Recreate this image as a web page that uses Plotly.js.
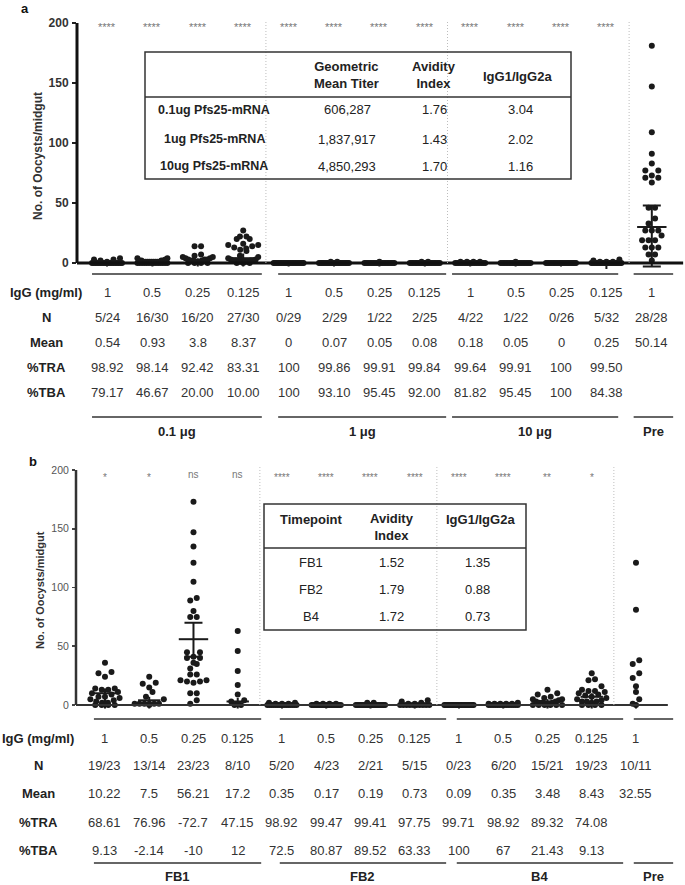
<!DOCTYPE html>
<html><head><meta charset="utf-8">
<script src="https://cdn.plot.ly/plotly-3.0.1.min.js"></script>
<style>html,body{margin:0;padding:0;background:#fff}#chart{width:685px;height:885px}</style>
</head><body><div id="chart"></div>
<script>
// ---------------- DATA ----------------
// Panel a: oocysts per midgut for each group (0.1 µg x4, 1 µg x4, 10 µg x4, Pre)
const oocystsA = [
  [0,0,0,0,0,0,0,0,0,0,0,0,0,0,0,0,0,0,0,1,2,3,3,4],
  [0,0,0,0,0,0,0,0,0,0,0,0,0,0,1,1,1,1,1,1,1,1,1,2,2,2,2,3,4,4],
  [0,0,0,0,14,14,7,6,5,5,4,4,3,3,3,2,2,2,1,1],
  [0,0,0,27,22,22,20,20,16,15,15,14,13,12,11,10,6,5,4,3,3,2,2,2,2,1,1,1,1,1],
  [0,0,0,0,0,0,0,0,0,0,0,0,0,0,0,0,0,0,0,0,0,0,0,0,0,0,0,0,0],
  [0,0,0,0,0,0,0,0,0,0,0,0,0,0,0,0,0,0,0,0,0,0,0,0,0,0,0,1,1],
  [0,0,0,0,0,0,0,0,0,0,0,0,0,0,0,0,0,0,0,0,0,1],
  [0,0,0,0,0,0,0,0,0,0,0,0,0,0,0,0,0,0,0,0,0,0,0,1,1],
  [0,0,0,0,0,0,0,0,0,0,0,0,0,0,0,0,0,0,1,1,1,1],
  [0,0,0,0,0,0,0,0,0,0,0,0,0,0,0,0,0,0,0,0,0,1],
  [0,0,0,0,0,0,0,0,0,0,0,0,0,0,0,0,0,0,0,0,0,0,0,0,0,0],
  [0,0,0,0,0,0,0,0,0,0,0,0,0,0,0,0,0,0,0,0,0,0,0,0,0,0,0,3,2,1,1,1],
  [181,147,109,91,83,77,77,73,71,71,67,46,46,37,33,27,27,27,23,19,19,19,13,13,13,7,7,2]
];
const centerA  = [0,0,1,4,0,0,0,0,0,0,0,0,30];
const errUpA   = [2,2,3,4,1,1,1,1,1,1,1,2,18];
const errDownA = [3,3,4,7,3,3,3,3,3,3,3,5,33];
const sigA = ['****','****','****','****','****','****','****','****','****','****','****','****',''];
const igGA  = ['1','0.5','0.25','0.125','1','0.5','0.25','0.125','1','0.5','0.25','0.125','1'];
const nA    = ['5/24','16/30','16/20','27/30','0/29','2/29','1/22','2/25','4/22','1/22','0/26','5/32','28/28'];
const meanA = ['0.54','0.93','3.8','8.37','0','0.07','0.05','0.08','0.18','0.05','0','0.25','50.14'];
const traA  = ['98.92','98.14','92.42','83.31','100','99.86','99.91','99.84','99.64','99.91','100','99.50',''];
const tbaA  = ['79.17','46.67','20.00','10.00','100','93.10','95.45','92.00','81.82','95.45','100','84.38',''];
const groupLabelsA = ['0.1 μg','1 μg','10 μg','Pre'];
const insetARowLabels = ['0.1ug Pfs25-mRNA','1ug Pfs25-mRNA','10ug Pfs25-mRNA'];
const insetAGMT = ['606,287','1,837,917','4,850,293'];
const insetAAvidity = ['1.76','1.43','1.70'];
const insetARatio = ['3.04','2.02','1.16'];

// Panel b
const oocystsB = [
  [0,0,0,0,36,28,27,24,14,14,13,13,11,10,9,7,7,6,5,4,3,2,2],
  [0,24,19,18,15,11,7,5,1,1,1,1,1,1],
  [173,147,135,121,105,91,89,80,75,75,45,45,41,40,40,36,35,31,26,26,21,21,20,20,19,10,10,4,1],
  [0,0,63,46,29,17,9,4,3,1],
  [0,0,0,0,0,0,0,0,0,0,0,0,0,0,0,2,2,1,1,1],
  [0,0,0,0,0,0,0,0,0,0,0,0,0,0,0,0,0,0,0,1,1,1,1],
  [0,0,0,0,0,0,0,0,0,0,0,0,0,0,0,0,0,0,0,2,2],
  [0,0,0,0,0,0,0,0,0,0,4,3,2,1,1],
  [0,0,0,0,0,0,0,0,0,0,0,0,0,0,0,0,0,0,0,0,0,0,0],
  [0,0,0,0,0,0,0,0,0,0,0,0,0,0,2,1,1,1,1,1],
  [0,0,0,0,0,0,13,10,9,7,6,5,5,4,3,3,2,2,2,1,1],
  [0,0,0,0,27,22,21,16,13,12,12,11,10,9,8,7,6,5,4,3,3,3,2],
  [121,81,38,35,27,23,16,11,5,1,0]
];
const centerB  = [10,4,56,3,0,0,0,0,0,0,3,7,0];
const errUpB   = [4,3,14,3,1,1,1,1,1,1,2,3,2];
const errDownB = [13,7,15,6,3,3,3,3,3,3,6,10,3];
const sigB = ['*','*','ns','ns','****','****','****','****','****','****','**','*',''];
const igGB  = ['1','0.5','0.25','0.125','1','0.5','0.25','0.125','1','0.5','0.25','0.125','1'];
const nB    = ['19/23','13/14','23/23','8/10','5/20','4/23','2/21','5/15','0/23','6/20','15/21','19/23','10/11'];
const meanB = ['10.22','7.5','56.21','17.2','0.35','0.17','0.19','0.73','0.09','0.35','3.48','8.43','32.55'];
const traB  = ['68.61','76.96','-72.7','47.15','98.92','99.47','99.41','97.75','99.71','98.92','89.32','74.08',''];
const tbaB  = ['9.13','-2.14','-10','12','72.5','80.87','89.52','63.33','100','67','21.43','9.13',''];
const groupLabelsB = ['FB1','FB2','B4','Pre'];
const insetBRowLabels = ['FB1','FB2','B4'];
const insetBAvidity = ['1.52','1.79','1.72'];
const insetBRatio = ['1.35','0.88','0.73'];

const rowLabels = ['IgG (mg/ml)','N','Mean','%TRA','%TBA'];
const yTitle = 'No. of Oocysts/midgut';

// ---------------- LAYOUT HELPERS ----------------
const W = 685, H = 885;
const FONT = 'Liberation Sans, Arial, Helvetica, sans-serif';
const INK = '#1a1a1a';
const px = v => v / W;
const py = v => 1 - v / H;

function swarm(groups, binH, dx, maxHalf) {
  const xs = [], ys = [];
  groups.forEach((vals, i) => {
    const sorted = vals.slice().sort((a, b) => a - b);
    let row = [];
    const flush = () => {
      const n = row.length;
      const step = n > 1 ? Math.min(dx, 2 * maxHalf / (n - 1)) : 0;
      const mid = (n - 1) / 2;
      const order = Array.from({length: n}, (_, k) => k).sort((p, q) => Math.abs(p - mid) - Math.abs(q - mid) || p - q);
      row.forEach((v, j) => { xs.push(i + (order[j] - mid) * step); ys.push(v); });
      row = [];
    };
    sorted.forEach(v => {
      if (row.length && (v - row[0] >= binH || (row[0] === 0 && v > 0))) flush();
      row.push(v);
    });
    if (row.length) flush();
  });
  return {xs, ys};
}

const swA = swarm(oocystsA, 5, 0.143, 0.33);
const swB = swarm(oocystsB, 5, 0.147, 0.33);

// summary (centre line + error bar) traces: wide caps only where the bar is long
function summaryTraces(center, up, down, xa, ya) {
  const out = [];
  [true, false].forEach(big => {
    const ii = center.map((_, i) => i).filter(i => (up[i] >= 10) === big);
    out.push({x: ii, y: ii.map(i => center[i]), xaxis: xa, yaxis: ya, type: 'scatter', mode: 'markers', cliponaxis: false,
      marker: {symbol: 'line-ew-open', size: big ? 21 : 16, color: INK, line: {width: 2, color: INK}},
      error_y: {type: 'data', symmetric: false, array: ii.map(i => up[i]), arrayminus: ii.map(i => down[i]),
        thickness: 2, width: big ? 9 : 0, color: INK}});
  });
  return out;
}

const traces = [
  {x: swA.xs, y: swA.ys, xaxis: 'x', yaxis: 'y', type: 'scatter', mode: 'markers', cliponaxis: false,
   marker: {size: 6, color: INK}},
  ...summaryTraces(centerA, errUpA, errDownA, 'x', 'y'),
  {x: swB.xs, y: swB.ys, xaxis: 'x2', yaxis: 'y2', type: 'scatter', mode: 'markers', cliponaxis: false,
   marker: {size: 6, color: INK}},
  ...summaryTraces(centerB, errUpB, errDownB, 'x2', 'y2')
];

// axis geometry
const xRangeA = [-0.661, -0.661 + 608 / 45.4];
const xRangeB = [-0.655, -0.655 + 609 / 44.25];
const yRange = [-6, 203];

const shapes = [];
const ann = [];

function txt(text, x, y, xref, yref, size, bold, color, extra) {
  ann.push(Object.assign({text, x, y, xref, yref, showarrow: false, xanchor: 'center', yanchor: 'middle',
    font: {family: FONT, size, color, weight: bold ? 'bold' : 'normal'}}, extra || {}));
}
function line(x0, y0, x1, y1, xref, yref, width, color, dash) {
  shapes.push({type: 'line', x0, y0, x1, y1, xref, yref, line: {width, color, dash: dash || 'solid'}});
}

function panel(opt) {
  const {xa, ya, xStart, axisPx, xEnd, axW, xaxW, axColor, sig, sigShift, sigColor, sigSize, rows, rowY, labelX,
         underTop, underBot, spans, groupLabels, labelY, titleX, titleY, titleSize} = opt;
  line(px(axisPx), 0, px(axisPx), 200, 'paper', ya, axW, axColor);
  line(xStart, 0, xEnd, 0, xa, ya, xaxW, axColor);
  [3.5, 7.5, 11.5].forEach(s => line(s, 0, s, 202.5, xa, ya, 1, '#bdbdbd', '1px,2px'));
  sig.forEach((s, i) => { if (s) txt(s, i, 200, xa, ya, sigSize, false, sigColor, {yshift: s.includes('*') ? sigShift[0] : sigShift[1]}); });
  rows.forEach((r, k) => {
    txt(rowLabels[k], px(labelX), py(rowY[k]), 'paper', 'paper', 13, true, '#222');
    r.forEach((v, i) => { if (v) txt(v, i, py(rowY[k]), xa, 'paper', 13, false, '#333'); });
  });
  spans.forEach((sp, g) => {
    line(sp[0], py(underTop), sp[1], py(underTop), xa, 'paper', 1.5, '#333');
    line(sp[0], py(underBot), sp[1], py(underBot), xa, 'paper', 1.5, '#333');
    txt(groupLabels[g], (sp[0] + sp[1]) / 2, py(labelY), xa, 'paper', 13, true, '#222');
  });
  txt(yTitle, px(titleX), py(titleY), 'paper', 'paper', titleSize, true, '#333', {textangle: -90});
}

panel({xa: 'x', ya: 'y', xStart: xRangeA[0], axisPx: 77, xEnd: 12.69, axW: 3, xaxW: 3, axColor: '#111',
  sig: sigA, sigShift: [-4, -4], sigColor: '#777', sigSize: 11,
  rows: [igGA, nA, meanA, traA, tbaA], rowY: [292, 317, 342, 367, 392], labelX: 46,
  underTop: 274, underBot: 417, spans: [[-0.33, 3.41], [3.77, 7.47], [7.6, 11.26], [11.6, 12.47]],
  groupLabels: groupLabelsA, labelY: 431, titleX: 38, titleY: 156, titleSize: 12});

panel({xa: 'x2', ya: 'y2', xStart: xRangeB[0], axisPx: 76, xEnd: 12.72, axW: 2.5, xaxW: 2, axColor: '#333',
  sig: sigB, sigShift: [-7, -4], sigColor: '#777', sigSize: 10,
  rows: [igGB, nB, meanB, traB, tbaB], rowY: [738, 765, 793, 822, 850], labelX: 38,
  underTop: 719, underBot: 863, spans: [[-0.25, 3.53], [3.95, 7.71], [7.95, 11.71], [11.95, 12.84]],
  groupLabels: groupLabelsB, labelY: 876, titleX: 40, titleY: 590, titleSize: 11});

// panel letters
txt('a', px(25), py(8), 'paper', 'paper', 13, true, '#111');
txt('b', px(33), py(461), 'paper', 'paper', 13, true, '#111');

// inset table a
shapes.push({type: 'rect', xref: 'paper', yref: 'paper', x0: px(145), x1: px(571), y0: py(179), y1: py(52),
  line: {width: 1.5, color: '#333'}, fillcolor: 'rgba(255,255,255,0)'});
line(px(145), py(97), px(571), py(97), 'paper', 'paper', 1.5, '#333');
txt('Geometric<br>Mean Titer', px(346), py(75), 'paper', 'paper', 13, true, '#222');
txt('Avidity<br>Index', px(434), py(75), 'paper', 'paper', 13, true, '#222');
txt('IgG1/IgG2a', px(517), py(76), 'paper', 'paper', 13, true, '#222');
[110, 139, 166].forEach((yy, k) => {
  txt(insetARowLabels[k], px(214), py(yy), 'paper', 'paper', 12.5, true, '#222');
  txt(insetAGMT[k], px(347), py(yy), 'paper', 'paper', 13, false, '#222');
  txt(insetAAvidity[k], px(434), py(yy), 'paper', 'paper', 13, false, '#222');
  txt(insetARatio[k], px(520), py(yy), 'paper', 'paper', 13, false, '#222');
});

// inset table b
shapes.push({type: 'rect', xref: 'paper', yref: 'paper', x0: px(264), x1: px(526), y0: py(630), y1: py(504),
  line: {width: 1.5, color: '#333'}, fillcolor: 'rgba(255,255,255,0)'});
line(px(264), py(548), px(526), py(548), 'paper', 'paper', 1.5, '#333');
txt('Timepoint', px(311), py(519), 'paper', 'paper', 13, true, '#222');
txt('Avidity<br>Index', px(392), py(527), 'paper', 'paper', 13, true, '#222');
txt('IgG1/IgG2a', px(480), py(519), 'paper', 'paper', 13, true, '#222');
[562, 589, 616].forEach((yy, k) => {
  txt(insetBRowLabels[k], px(311), py(yy), 'paper', 'paper', 13, false, '#222');
  txt(insetBAvidity[k], px(392), py(yy), 'paper', 'paper', 13, false, '#222');
  txt(insetBRatio[k], px(478), py(yy), 'paper', 'paper', 13, false, '#222');
});

const yTicks = [0, 50, 100, 150, 200];
const layout = {
  width: W, height: H, margin: {l: 0, r: 0, t: 0, b: 0},
  paper_bgcolor: '#fff', plot_bgcolor: 'rgba(0,0,0,0)', showlegend: false,
  font: {family: FONT},
  xaxis: {domain: [px(77), 1], range: xRangeA, visible: false, anchor: 'y', fixedrange: true},
  yaxis: {domain: [py(270.2), py(19.4)], range: yRange, anchor: 'x', tickvals: yTicks, ticktext: yTicks.map(String),
    showline: false, showgrid: false, zeroline: false, ticks: 'outside', ticklen: 4, tickwidth: 2, tickcolor: '#222',
    ticklabelstandoff: 1, tickfont: {family: FONT, size: 12, color: '#333', weight: 'bold'}},
  xaxis2: {domain: [px(76), 1], range: xRangeB, visible: false, anchor: 'y2', fixedrange: true},
  yaxis2: {domain: [py(712.05), py(466.475)], range: yRange, anchor: 'x2', tickvals: yTicks, ticktext: yTicks.map(String),
    showline: false, showgrid: false, zeroline: false, ticks: 'outside', ticklen: 3, tickwidth: 1.5, tickcolor: '#444',
    ticklabelstandoff: 1, tickfont: {family: FONT, size: 10.5, color: '#555'}},
  shapes, annotations: ann
};

Plotly.newPlot('chart', traces, layout, {staticPlot: true, displayModeBar: false});
</script></body></html>
